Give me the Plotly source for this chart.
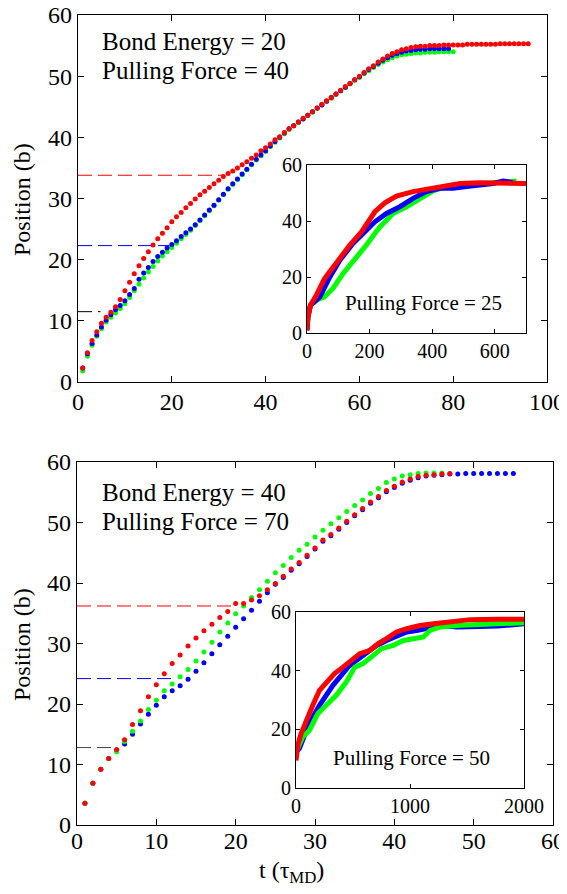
import plotly.graph_objects as go

# page body has an 8px margin on every side: draw the figure 8px in and keep it inside the window
OFF = 8
W, H = 567 - OFF, 894 - 2 * OFF

# ---------------- data: top panel (Bond Energy = 20, Pulling Force = 40) ----------------
top_t_red = list(range(1, 97))
top_red = [2.3, 4.8, 6.8, 8.2, 9.6, 10.6, 11.4, 12.3, 13.5, 14.9,
           16.3, 17.7, 19.0, 20.2, 21.3, 22.4, 23.4, 24.3, 25.2, 26.2,
           27.0, 27.7, 28.5, 29.2, 29.9, 30.6, 31.2, 31.8, 32.4, 33.0,
           33.6, 34.1, 34.5, 35.0, 35.5, 36.0, 36.6, 37.1, 37.8, 38.3,
           38.9, 39.6, 40.1, 40.8, 41.4, 41.9, 42.5, 43.1, 43.6, 44.2,
           44.8, 45.4, 46.0, 46.5, 47.1, 47.7, 48.3, 48.8, 49.4, 50.0,
           50.6, 51.2, 51.7, 52.3, 52.8, 53.3, 53.7, 54.0, 54.3, 54.5,
           54.7, 54.8, 54.9, 54.9, 55.0, 55.0, 55.0, 55.1, 55.1, 55.1,
           55.1, 55.1, 55.2, 55.2, 55.2, 55.2, 55.2, 55.2, 55.2, 55.3,
           55.3, 55.3, 55.3, 55.3, 55.3, 55.3]
top_t_blue = list(range(1, 80))
top_blue = [2.3, 4.6, 6.3, 7.7, 9.0, 10.1, 11.0, 11.8, 12.5, 13.3,
            14.3, 15.3, 16.8, 17.8, 18.7, 19.7, 20.5, 21.2, 21.9, 22.5,
            23.1, 23.8, 24.4, 25.0, 25.7, 26.5, 27.3, 28.1, 28.9, 29.8,
            30.7, 31.6, 32.4, 33.2, 34.0, 34.8, 35.6, 36.4, 37.1, 37.8,
            38.6, 39.3, 40.0, 40.7, 41.4, 41.9, 42.5, 43.0, 43.6, 44.2,
            44.8, 45.3, 45.9, 46.5, 47.1, 47.6, 48.2, 48.8, 49.4, 49.9,
            50.5, 51.1, 51.6, 52.1, 52.6, 53.0, 53.4, 53.7, 53.9, 54.1,
            54.2, 54.3, 54.4, 54.4, 54.5, 54.5, 54.5, 54.5, 54.5]
top_t_green = list(range(1, 81))
top_green = [1.8, 4.2, 6.0, 7.5, 8.7, 9.8, 10.6, 11.3, 12.0, 12.8,
             13.8, 14.9, 16.0, 17.0, 18.0, 18.9, 19.8, 20.6, 21.3, 22.0,
             22.7, 23.4, 24.1, 24.8, 25.6, 26.4, 27.2, 28.0, 28.8, 29.7,
             30.6, 31.5, 32.3, 33.1, 33.9, 34.7, 35.5, 36.3, 37.0, 37.7,
             38.5, 39.2, 39.9, 40.6, 41.3, 41.9, 42.4, 43.0, 43.6, 44.1,
             44.7, 45.3, 45.9, 46.4, 47.0, 47.6, 48.1, 48.7, 49.3, 49.8,
             50.4, 50.9, 51.4, 51.9, 52.3, 52.7, 53.0, 53.3, 53.5, 53.6,
             53.7, 53.8, 53.8, 53.9, 53.9, 53.9, 54.0, 54.0, 54.0, 54.0]
# guide lines (colour, level, end time)
top_guides = [("red", 33.8, 31.0), ("blue", 22.3, 19.5), ("black", 11.5, 4.8)]

# top inset (Pulling Force = 25)
ti_red_x = [0, 3, 11, 30, 56, 83, 110, 137, 174, 195, 217, 249, 286, 339, 403, 446, 489, 553, 617, 700]
ti_red_y = [1.0, 5.7, 9.9, 13.5, 19.4, 23.6, 27.8, 31.4, 36.1, 39.7, 43.3, 46.5, 48.9, 50.5, 51.7, 52.5, 53.4, 53.7, 53.7, 53.4]
ti_blue_x = [0, 3, 11, 41, 73, 105, 147, 179, 217, 254, 297, 339, 382, 425, 467, 510, 553, 595, 627, 659]
ti_blue_y = [1.0, 5.7, 9.9, 12.9, 20.0, 26.0, 32.0, 35.8, 39.7, 42.7, 45.1, 48.1, 50.5, 51.7, 51.7, 52.3, 52.8, 53.4, 54.3, 53.7]
ti_green_x = [0, 3, 11, 30, 56, 83, 115, 147, 190, 233, 275, 318, 361, 403, 446, 510, 574, 638, 670]
ti_green_y = [1.0, 5.7, 9.9, 11.7, 12.9, 15.9, 21.2, 25.4, 31.4, 37.9, 42.7, 45.1, 48.1, 50.8, 52.3, 52.8, 53.2, 53.7, 54.3]

# ---------------- data: bottom panel (Bond Energy = 40, Pulling Force = 70) ----------------
bot_t_red = list(range(1, 48))
bot_red = [3.6, 6.9, 9.2, 11.0, 12.5, 14.1, 16.6, 18.9, 21.2, 23.2,
           25.0, 26.7, 28.1, 29.6, 30.9, 32.1, 33.2, 34.3, 35.3, 36.6,
           36.6, 37.2, 37.9, 38.9, 39.9, 41.1, 42.3, 43.4, 44.6, 45.8,
           47.1, 48.0, 49.1, 50.2, 51.3, 52.3, 53.4, 54.3, 55.3, 56.0,
           56.7, 57.2, 57.6, 57.8, 57.9, 58.0, 58.1]
bot_t_blue = list(range(1, 56))
bot_blue = [3.6, 6.9, 9.2, 11.0, 12.3, 13.4, 15.0, 16.7, 18.3, 19.8,
            21.2, 22.2, 23.0, 24.1, 25.4, 26.8, 28.3, 29.8, 31.2, 32.7,
            34.1, 35.5, 37.0, 38.4, 39.8, 40.9, 42.1, 43.2, 44.4, 45.6,
            46.9, 47.8, 48.9, 50.0, 51.1, 52.1, 53.2, 54.1, 55.1, 55.8,
            56.5, 57.0, 57.4, 57.7, 57.8, 57.9, 58.0, 58.0, 58.1, 58.1,
            58.1, 58.1, 58.1, 58.1, 58.1]
bot_t_green = list(range(1, 47))
bot_green = [3.6, 6.9, 9.2, 11.0, 12.1, 13.8, 15.5, 17.2, 19.1, 20.6,
             22.2, 23.3, 24.5, 25.7, 27.1, 28.6, 30.2, 31.9, 33.4, 34.9,
             36.2, 37.6, 38.9, 40.3, 41.7, 42.9, 44.2, 45.4, 46.4, 47.6,
             48.7, 49.8, 50.8, 51.8, 52.8, 53.7, 54.8, 55.6, 56.6, 57.2,
             57.7, 57.9, 58.1, 58.2, 58.2, 58.2]
bot_guides = [("red", 36.2, 19.8), ("blue", 24.2, 12.0), ("#444444", 12.8, 4.8)]

# bottom inset (Pulling Force = 50)
bi_red_x = [0, 15, 44, 88, 147, 206, 265, 338, 412, 485, 559, 647, 721, 794, 882, 971, 1088, 1206, 1353, 1529, 1765, 2000]
bi_red_y = [9.4, 14.5, 18.5, 23.1, 28.2, 33.3, 36.1, 39.0, 41.2, 43.7, 45.8, 46.9, 49.2, 50.9, 53.2, 54.3, 55.4, 56.0, 56.8, 57.4, 57.5, 57.5]
bi_blue_x = [0, 29, 74, 132, 206, 265, 324, 397, 456, 529, 618, 706, 794, 882, 971, 1059, 1147, 1265, 1412, 1559, 1765, 2000]
bi_blue_y = [12.3, 13.4, 17.9, 23.1, 28.2, 31.6, 35.0, 38.4, 41.2, 43.5, 46.3, 48.6, 50.3, 51.8, 53.2, 53.7, 54.3, 55.4, 54.9, 54.9, 55.2, 56.0]
bi_green_x = [0, 59, 118, 191, 265, 353, 441, 515, 588, 662, 750, 853, 941, 1029, 1118, 1176, 1265, 1412, 1588, 1765, 2000]
bi_green_y = [12.3, 17.4, 19.7, 25.3, 28.2, 31.6, 36.1, 41.2, 42.4, 44.6, 47.5, 48.6, 50.3, 50.9, 51.5, 53.7, 54.9, 55.4, 55.8, 56.0, 56.3]

RED, BLUE, GREEN = "#ff0000", "#0000ff", "#00ff00"
FONT = "Liberation Serif"

def px(x0, x1):
    return [(x0 - OFF) / W, (x1 - OFF) / W]

def py(ytop, ybot):
    return [1 - (ybot - OFF) / H, 1 - (ytop - OFF) / H]

fig = go.Figure()

def dots(x, y, color, xa, ya):
    fig.add_trace(go.Scatter(x=x, y=y, mode="markers", xaxis=xa, yaxis=ya,
                             marker=dict(color=color, size=5, line=dict(width=0)),
                             showlegend=False, hoverinfo="skip"))

def curve(x, y, color, xa, ya):
    fig.add_trace(go.Scatter(x=x, y=y, mode="lines", xaxis=xa, yaxis=ya,
                             line=dict(color=color, width=5),
                             showlegend=False, hoverinfo="skip"))

def guide(color, level, tend, xa, ya):
    fig.add_trace(go.Scatter(x=[0, tend], y=[level, level], mode="lines", xaxis=xa, yaxis=ya,
                             line=dict(color=color, width=1, dash="14px,6px"),
                             showlegend=False, hoverinfo="skip"))

# top main
for c, lv, te in top_guides:
    guide(c, lv, te, "x", "y")
dots(top_t_green, top_green, GREEN, "x", "y")
dots(top_t_blue, top_blue, BLUE, "x", "y")
dots(top_t_red, top_red, RED, "x", "y")
# top inset
curve(ti_green_x, ti_green_y, GREEN, "x2", "y2")
curve(ti_blue_x, ti_blue_y, BLUE, "x2", "y2")
curve(ti_red_x, ti_red_y, RED, "x2", "y2")
# bottom main
for c, lv, te in bot_guides:
    guide(c, lv, te, "x3", "y3")
dots(bot_t_blue, bot_blue, BLUE, "x3", "y3")
dots(bot_t_green, bot_green, GREEN, "x3", "y3")
dots(bot_t_red, bot_red, RED, "x3", "y3")
# bottom inset
curve(bi_blue_x, bi_blue_y, BLUE, "x4", "y4")
curve(bi_green_x, bi_green_y, GREEN, "x4", "y4")
curve(bi_red_x, bi_red_y, RED, "x4", "y4")

def ax(domain, rng, dtick, anchor, fs, ticklen=6, standoff=0):
    return dict(domain=domain, range=rng, dtick=dtick, tick0=0, anchor=anchor,
                automargin=False, ticklabelstandoff=standoff, ticklabeloverflow="allow",
                showgrid=False, zeroline=False, showline=True, linecolor="black", linewidth=1.2,
                mirror="allticks", ticks="inside", ticklen=ticklen, tickcolor="black", tickwidth=1,
                tickfont=dict(family=FONT, size=fs, color="black"))

fig.update_layout(
    width=W, height=H, margin=dict(l=0, r=0, t=0, b=0, autoexpand=False),
    paper_bgcolor="white", plot_bgcolor="white",
    font=dict(family=FONT, color="black"),
    xaxis=ax(px(78, 547), [0, 100], 20, "y", 24, 6, -2),
    yaxis=ax(py(15, 382), [0, 60], 10, "x", 24),
    xaxis2=ax(px(307, 526), [0, 700], 200, "y2", 20, 4),
    yaxis2=ax(py(165, 333), [0, 60], 20, "x2", 20, 4),
    xaxis3=ax(px(77, 553), [0, 60], 10, "y3", 24, 6, -6),
    yaxis3=ax(py(462, 825), [0, 60], 10, "x3", 24),
    xaxis4=ax(px(296, 524), [0, 2000], 1000, "y4", 20, 4),
    yaxis4=ax(py(612, 788), [0, 60], 20, "x4", 20, 4),
)

def text(s, x, y, size, xanchor="left", angle=0):
    fig.add_annotation(text=s, x=(x - OFF) / W, y=1 - (y - OFF) / H, xref="paper", yref="paper",
                       xanchor=xanchor, yanchor="middle", showarrow=False, textangle=angle,
                       font=dict(family=FONT, size=size, color="black"))

text("Bond Energy = 20", 100, 42, 25)
text("Pulling Force = 40", 100, 70, 25)
text("Pulling Force = 25", 343, 303, 21)
text("Bond Energy = 40", 100, 493, 25)
text("Pulling Force = 70", 100, 521, 25)
text("Pulling Force = 50", 331, 758, 21)
text("Position (b)", 22, 200, 24, "center", -90)
text("Position (b)", 22, 645, 24, "center", -90)
text("t (τ<sub>MD</sub>)", 291, 872, 24, "center")

fig.write_html("out.html")
